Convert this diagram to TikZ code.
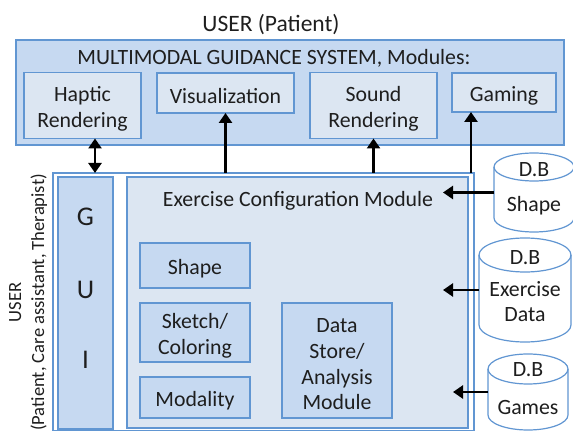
\documentclass[tikz,border=0pt]{standalone}
\usepackage{fontspec}
\setmainfont{Carlito}
\usetikzlibrary{arrows.meta}
\definecolor{panel}{HTML}{C6D9F1}
\definecolor{pale}{HTML}{DCE6F2}
\definecolor{frameblue}{HTML}{6196D2}
\definecolor{ink}{HTML}{1E1E1E}
% tall strut that pushes a box's text a little lower
\newcommand\lift{\rule{0pt}{22pt}}
% database drum drawn around an empty node: #1 node, #2 x radius, #3 y radius
\newcommand\dbdrum[3]{%
  \draw[frameblue, line width=1.2pt, fill=white]
    ([yshift=-#3]#1.north west) -- ([yshift=#3]#1.south west)
    arc[start angle=180, end angle=360, x radius=#2, y radius=#3]
    -- ([yshift=-#3]#1.north east)
    arc[start angle=0, end angle=180, x radius=#2, y radius=#3] -- cycle;
  \draw[frameblue, line width=1.2pt]
    ([yshift=-#3]#1.north west)
    arc[start angle=180, end angle=360, x radius=#2, y radius=#3];
}
\tikzset{
  box/.style={draw=frameblue, line width=1.2pt, inner sep=0pt, outer sep=0pt,
              align=center, text=ink},
  darkbox/.style={box, fill=panel},
  lightbox/.style={box, fill=pale},
  whitebox/.style={box, fill=white},
  txt/.style={text=ink, inner sep=0pt, align=center},
  drum/.style={inner sep=0pt, outer sep=0pt},
  flow/.style={line width=2.6pt, draw=black, -{Triangle[length=10pt,width=13pt]}},
  twoway/.style={line width=2.6pt, draw=black,
                 {Triangle[length=10pt,width=13pt]}-{Triangle[length=10pt,width=13pt]}},
}
\begin{document}
\begin{tikzpicture}[x=1pt, y=1pt, font=\fontsize{21.8}{26.5}\selectfont]
\useasboundingbox (0,0) rectangle (573,431);

% multimodal guidance system
\node[txt, font=\fontsize{23.5}{28}\selectfont] (user) at (271,406) {USER (Patient)};
\node[darkbox, minimum width=548pt, minimum height=105pt] (mgs) at (290,338.5) {};
\node[txt] (mgstitle) at (274,372.5) {MULTIMODAL GUIDANCE SYSTEM, Modules:};
\node[lightbox, minimum width=117pt, minimum height=66pt] (haptic) at (82.5,325.5) {\lift Haptic\\Rendering};
\node[lightbox, minimum width=137pt, minimum height=40pt] (vis) at (225.5,338) {\lift Visualization};
\node[lightbox, minimum width=127pt, minimum height=66pt] (sound) at (373.5,325.5) {\lift Sound\\Rendering};
\node[lightbox, minimum width=104pt, minimum height=39pt] (gaming) at (504,338.5) {\lift Gaming};

% configuration side
\node[whitebox, minimum width=421pt, minimum height=257.5pt] (lower) at (263.5,129.25) {};
\node[darkbox, minimum width=55pt, minimum height=252pt] (gui) at (85.5,128) {};
\node[txt, font=\fontsize{27}{30}\selectfont] (g) at (85.5,214) {G};
\node[txt, font=\fontsize{27}{30}\selectfont] (u) at (85.5,141) {U};
\node[txt, font=\fontsize{27}{30}\selectfont] (i) at (85.5,71) {I};
\node[lightbox, minimum width=341pt, minimum height=251pt] (ecm) at (297.5,128.5) {};
\node[txt] (ecmtitle) at (298,230.5) {Exercise Configuration Module};
\node[darkbox, minimum width=110pt, minimum height=45pt] (shape) at (195,165.5) {\lift Shape};
\node[darkbox, minimum width=110pt, minimum height=59pt] (sketch) at (195,98.5) {\lift Sketch/\\Coloring};
\node[darkbox, minimum width=110pt, minimum height=41pt] (modality) at (195,33.5) {\lift Modality};
\node[darkbox, minimum width=110pt, minimum height=115pt,
      font=\fontsize{21.8}{25.7}\selectfont] (store) at (337,70.5) {\lift Data\\Store/\\Analysis\\Module};

\node[txt, rotate=90, font=\fontsize{18.6}{23}\selectfont] (roles) at (28,128.5)
  {USER\\(Patient, Care assistant, Therapist)};

% databases
\node[drum, minimum width=80pt, minimum height=79pt] (dbshape) at (534,238.5) {};
\node[drum, minimum width=92pt, minimum height=104pt] (dbdata) at (525,141) {};
\node[drum, minimum width=80pt, minimum height=76pt] (dbgames) at (528,39) {};
\dbdrum{dbshape}{40pt}{14pt}
\dbdrum{dbdata}{46pt}{17pt}
\dbdrum{dbgames}{40pt}{15pt}
\node[txt] (dbshapea) at (534,261) {D.B};
\node[txt] (dbshapeb) at (534,225) {Shape};
\node[txt] (dbdataa) at (525,173) {D.B};
\node[txt] (dbdatab) at (525,141.5) {Exercise};
\node[txt] (dbdatac) at (525,116) {Data};
\node[txt] (dbgamesa) at (528,61) {D.B};
\node[txt] (dbgamesb) at (528,23.5) {Games};

% connectors
\draw[twoway] ([xshift=12.5pt]haptic.south) -- ([xshift=12.5pt]haptic.south |- lower.north);
\draw[flow] (lower.north -| vis.south) -- (vis.south);
\draw[flow] (lower.north -| sound.south) -- (sound.south);
\draw[flow] ([xshift=-33pt]gaming.south |- lower.north) -- ([xshift=-33pt]gaming.south);
\draw[flow] (dbshape.west) -- ([xshift=-51pt]dbshape.west);
\draw[flow] (dbdata.west) -- ([xshift=-36pt]dbdata.west);
\draw[flow] (dbgames.west) -- ([xshift=-35pt]dbgames.west);
\end{tikzpicture}
\end{document}
